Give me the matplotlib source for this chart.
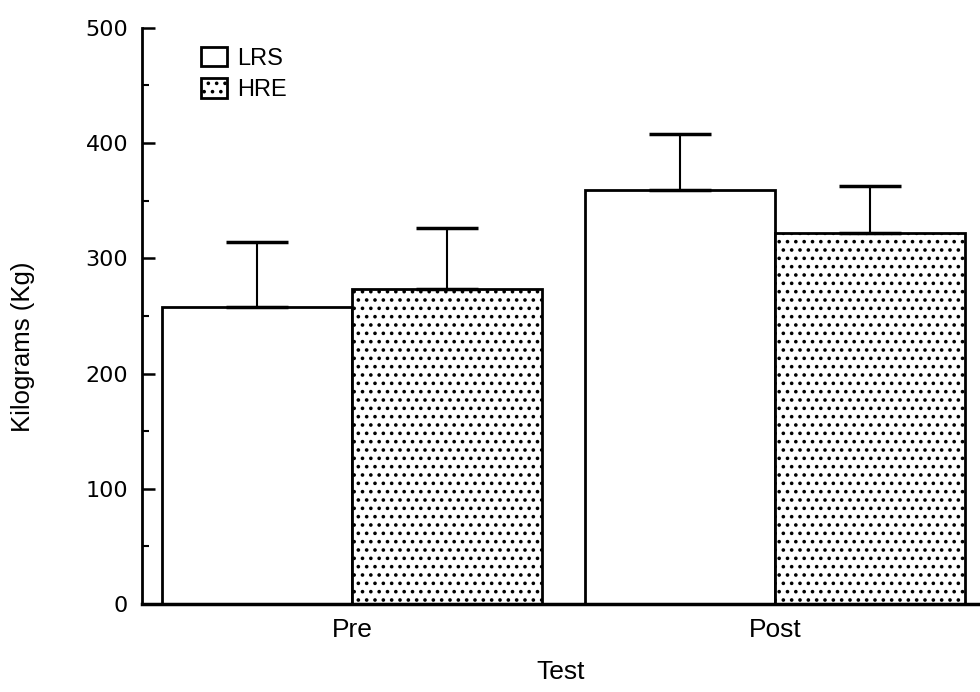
import matplotlib
matplotlib.use("Agg")
import matplotlib.pyplot as plt
import numpy as np

plt.rcParams['font.family'] = ['Liberation Sans', 'DejaVu Sans']
plt.rcParams['hatch.linewidth'] = 1.4

tests = ["Pre", "Post"]
groups = ["LRS", "HRE"]
lrs_mean = [258, 359]
lrs_sd = [56, 49]
hre_mean = [273, 322]
hre_sd = [53, 41]
y_ticks = [0, 100, 200, 300, 400, 500]

fig = plt.figure(figsize=(9.8, 6.92), dpi=100)
ax = fig.add_axes([0.145, 0.127, 0.855, 0.833])

x = np.arange(len(tests))
w = 0.45
err_style = dict(ecolor="black", elinewidth=1.5, capsize=22, capthick=2.5)
ax.bar(x - w / 2, lrs_mean, w, color="white", edgecolor="black", linewidth=2,
       yerr=[np.zeros(2), lrs_sd], error_kw=err_style, label=groups[0])
ax.bar(x + w / 2, hre_mean, w, color="white", edgecolor="black", linewidth=2,
       hatch="..", yerr=[np.zeros(2), hre_sd], error_kw=err_style,
       label=groups[1])

ax.set_xlim(-0.497, 1.485)
ax.set_ylim(0, 500)
ax.set_yticks(y_ticks, labels=[str(v) for v in y_ticks],
              fontfamily="DejaVu Sans", fontsize=16)
ax.set_yticks(np.arange(50, 500, 100), minor=True)
ax.tick_params(axis="y", which="major", direction="in", length=9, width=1.8,
               pad=10)
ax.tick_params(axis="y", which="minor", direction="in", length=5, width=1.5)
ax.set_xticks(x)
ax.set_xticklabels(tests)
ax.tick_params(axis="x", length=0, labelsize=19, pad=10)
for s in ["top", "right"]:
    ax.spines[s].set_visible(False)
ax.spines["left"].set_linewidth(2)
ax.spines["bottom"].set_linewidth(2.5)

ax.set_ylabel("Kilograms (Kg)", fontsize=18.5, va="center")
ax.yaxis.set_label_coords(-0.142, 0.446)
ax.set_xlabel("Test", fontsize=19, va="center")
ax.xaxis.set_label_coords(0.499, -0.118)

leg = ax.legend(loc="upper left", bbox_to_anchor=(0.07, 0.967), frameon=False,
                fontsize=17, handlelength=1.1, handleheight=0.9,
                handletextpad=0.45, labelspacing=0.35, borderpad=0.0,
                borderaxespad=0.0)
for patch in leg.get_patches():
    patch.set_linewidth(2)

fig.savefig("out.png", dpi=100)
